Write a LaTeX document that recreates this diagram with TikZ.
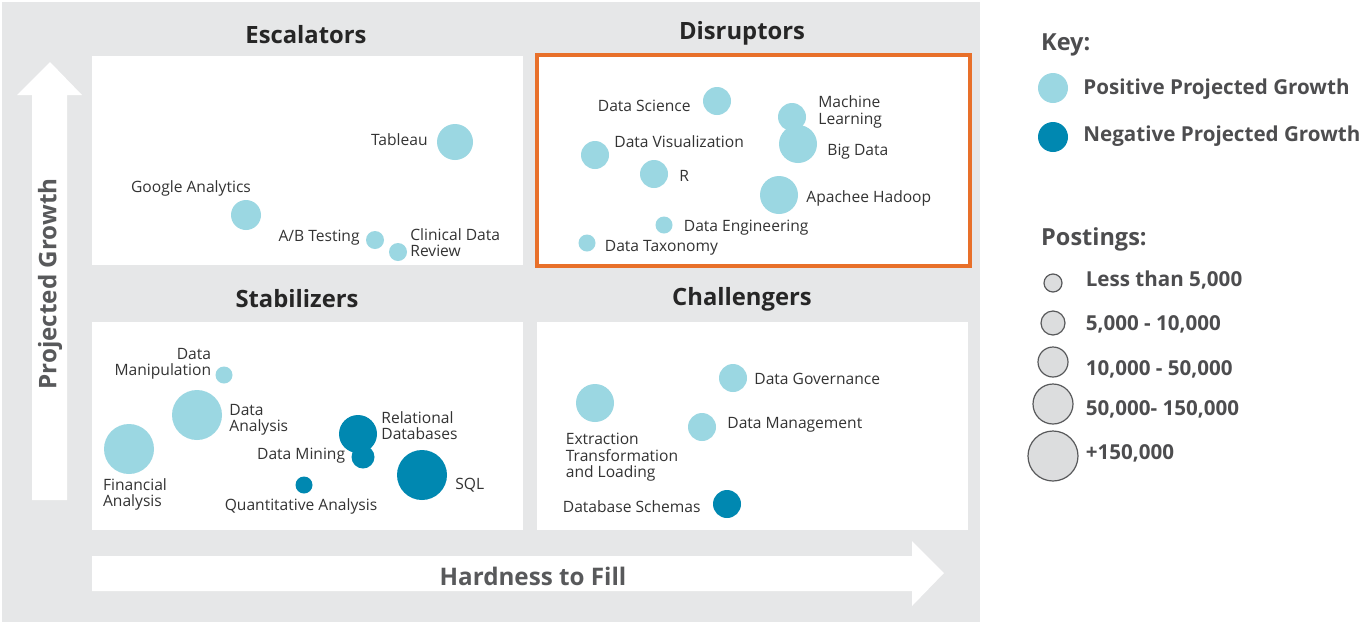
\documentclass[tikz,border=0pt]{standalone}
\usepackage{fontspec}
\setmainfont{Open Sans}
\usetikzlibrary{positioning}
\definecolor{bggray}{HTML}{E6E7E8}
\definecolor{posblue}{HTML}{9BD7E2}
\definecolor{negblue}{HTML}{0088B1}
\definecolor{hiorange}{HTML}{E8702A}
\definecolor{txtgray}{HTML}{333333}
\definecolor{keygray}{HTML}{4D4D4F}
\definecolor{sizegray}{HTML}{DCDDDE}
\definecolor{ringgray}{HTML}{58595B}

\begin{document}
\begin{tikzpicture}[x=1pt, y=-1pt]
\tikzset{
    panel/.style={fill=white, draw=none},
    quadtitle/.style={font=\fontsize{23.8}{26}\selectfont\bfseries, text=black!85},
    posbub/.style={circle, fill=posblue, inner sep=0pt, minimum size=#1},
    negbub/.style={circle, fill=negblue, inner sep=0pt, minimum size=#1},
    sizebub/.style={circle, fill=sizegray, draw=ringgray, line width=1.2pt, inner sep=0pt, minimum size=#1},
    lbl/.style={font=\fontsize{15.6}{16.2}\selectfont, text=txtgray, inner sep=0pt, align=left},
    keylbl/.style={font=\fontsize{20.6}{22}\selectfont\bfseries, text=keygray, inner sep=0pt, anchor=west},
    keyhead/.style={keylbl, font=\fontsize{23.5}{25}\selectfont\bfseries},
    axislbl/.style={font=\fontsize{24.2}{26}\selectfont\bfseries, text=ringgray}
}
\useasboundingbox (0,0) rectangle (1361,622);

% background and panels
\fill[bggray] (2,2) rectangle (980,622);
\fill[panel] (92,56) rectangle (523,265);
\fill[panel] (537,55) rectangle (970,266);
\draw[hiorange, line width=4pt] (537,55) rectangle (970,266);
\fill[panel] (92,322) rectangle (523,530);
\fill[panel] (537,322) rectangle (968,530);

% axis arrows
\fill[white] (32,500) -- (32,95) -- (17,95) -- (50,62) -- (82,95) -- (67,95) -- (67,500) -- cycle;
\fill[white] (92,556) -- (912,556) -- (912,541) -- (944,573) -- (912,606) -- (912,591) -- (92,591) -- cycle;
\node[axislbl, rotate=90] (ygrow) at (50,284) {Projected Growth};
\node[axislbl] (xhard) at (533,576) {Hardness to Fill};

\node[quadtitle] (esc) at (306,35) {Escalators};
\node[quadtitle] (dis) at (742,33) {Disruptors};
\node[quadtitle] (stab) at (297,299) {Stabilizers};
\node[quadtitle] (chal) at (742,299) {Challengers};

% Escalators
\node[posbub=36pt] (tab) at (455,142) {};
\node[posbub=30pt] (ga) at (246,215) {};
\node[posbub=18pt] (ab) at (375,240) {};
\node[posbub=18pt] (cdr) at (398,252) {};
\node[lbl, left=9pt of tab, yshift=2pt] {Tableau};
\node[lbl, above=3pt of ga, xshift=-55pt] {Google Analytics};
\node[lbl, left=6pt of ab, yshift=2pt] {A/B Testing};
\node[lbl, right=3pt of cdr, yshift=9pt] {Clinical Data\\Review};

% Disruptors
\node[posbub=28pt] (ds) at (717,101) {};
\node[posbub=28pt] (ml) at (792,117) {};
\node[posbub=38pt] (bd) at (798,144) {};
\node[posbub=28pt] (dv) at (595,155) {};
\node[posbub=28pt] (r) at (654,174) {};
\node[posbub=38pt] (ah) at (779,195) {};
\node[posbub=17pt] (de) at (664,225) {};
\node[posbub=17pt] (dt) at (587,243) {};
\node[lbl, left=12pt of ds, yshift=-5pt] {Data Science};
\node[lbl, right=12pt of ml, yshift=5pt] {Machine\\Learning};
\node[lbl, right=10pt of bd, yshift=-8pt] {Big Data};
\node[lbl, right=5pt of dv, yshift=13pt] {Data Visualization};
\node[lbl, right=11pt of r, yshift=-2pt] {R};
\node[lbl, right=8pt of ah, yshift=-3pt] {Apachee Hadoop};
\node[lbl, right=11pt of de, yshift=-3pt] {Data Engineering};
\node[lbl, right=9pt of dt, yshift=-5pt] {Data Taxonomy};

% Stabilizers
\node[posbub=17pt] (dm) at (224,375) {};
\node[posbub=50pt] (da) at (197,415) {};
\node[posbub=50pt] (fa) at (129,449) {};
\node[negbub=38pt] (rd) at (358,434) {};
\node[negbub=23pt] (dmi) at (363,457) {};
\node[negbub=17pt] (qa) at (304,485) {};
\node[negbub=50pt] (sql) at (422,475) {};
\node[lbl, align=right, left=4pt of dm, yshift=11pt] {Data\\Manipulation};
\node[lbl, right=7pt of da, yshift=-5pt] {Data\\Analysis};
\node[lbl, below=4pt of fa, xshift=6pt] {Financial\\Analysis};
\node[lbl, right=4pt of rd, yshift=8pt] {Relational\\Databases};
\node[lbl, left=6pt of dmi, yshift=1pt] {Data Mining};
\node[lbl, below=5pt of qa, xshift=-3pt] {Quantitative Analysis};
\node[lbl, right=8pt of sql, yshift=-10pt] {SQL};

% Challengers
\node[posbub=28pt] (dg) at (733,378) {};
\node[posbub=38pt] (etl) at (595,403) {};
\node[posbub=28pt] (dmg) at (702,427) {};
\node[negbub=28pt] (dsc) at (727,504) {};
\node[lbl, right=7pt of dg, yshift=-1pt] {Data Governance};
\node[lbl, below=11pt of etl, xshift=27pt] {Extraction\\Transformation\\and Loading};
\node[lbl, right=11pt of dmg, yshift=2pt] {Data Management};
\node[lbl, left=12pt of dsc, yshift=-3pt] {Database Schemas};

% legend
\node[keyhead] (key) at (1041,45) {Key:};
\node[posbub=30pt] (kpos) at (1053,88) {};
\node[negbub=30pt] (kneg) at (1053,137) {};
\node[keylbl, right=15pt of kpos, yshift=-1pt] {Positive Projected Growth};
\node[keylbl, right=15pt of kneg, yshift=1pt] {Negative Projected Growth};

\node[keyhead] (post) at (1041,239) {Postings:};
\node[sizebub=18pt] (s1) at (1053,283) {};
\node[sizebub=24pt] (s2) at (1053,323) {};
\node[sizebub=30pt] (s3) at (1053,362) {};
\node[sizebub=40pt] (s4) at (1053,404) {};
\node[sizebub=50pt] (s5) at (1053,456) {};
\node[keylbl, right=23pt of s1, yshift=3pt] {Less than 5,000};
\node[keylbl, right=20pt of s2, yshift=-1pt] {5,000 - 10,000};
\node[keylbl, right=17pt of s3, yshift=-7pt] {10,000 - 50,000};
\node[keylbl, right=12pt of s4, yshift=-5pt] {50,000- 150,000};
\node[keylbl, right=7pt of s5, yshift=3pt] {+150,000};
\end{tikzpicture}
\end{document}
